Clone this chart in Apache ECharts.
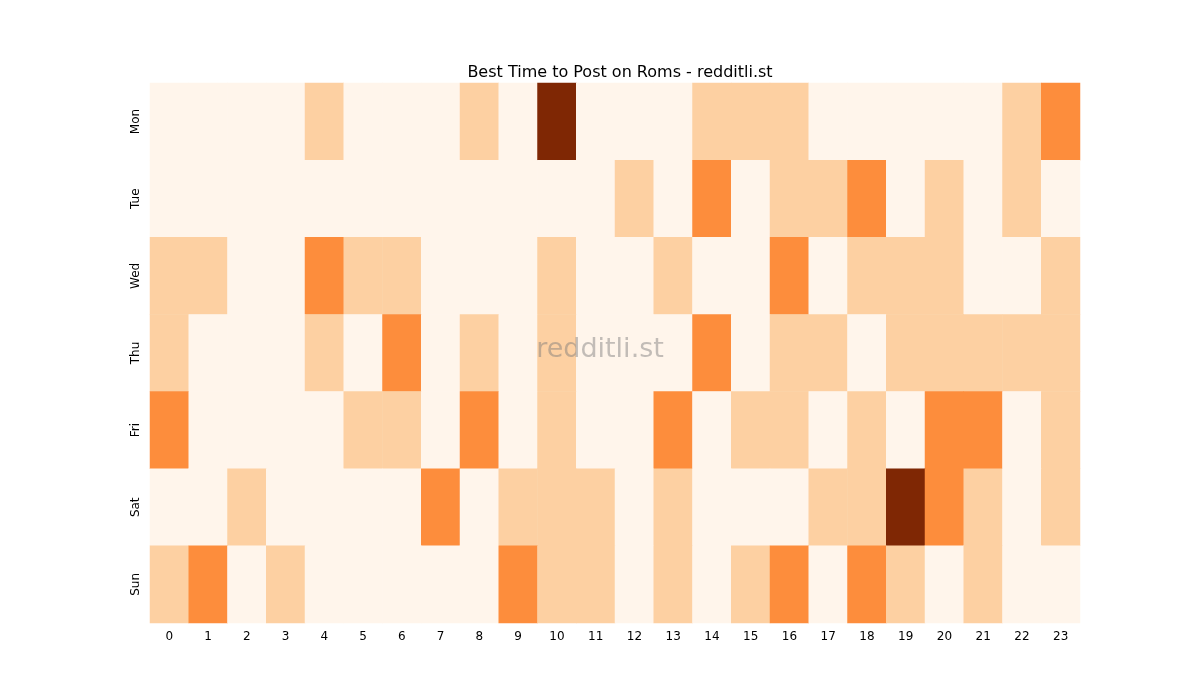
<!DOCTYPE html><html><head><meta charset="utf-8"><script src="https://cdn.jsdelivr.net/npm/echarts@6/dist/echarts.min.js"></script></head><body style="margin:0"><div id="c" style="width:1200px;height:700px"></div><script>
const hours=['0','1','2','3','4','5','6','7','8','9','10','11','12','13','14','15','16','17','18','19','20','21','22','23'];
const days=['Mon','Tue','Wed','Thu','Fri','Sat','Sun'];
const mon=[0,0,0,0,1,0,0,0,1,0,3,0,0,0,1,1,1,0,0,0,0,0,1,2];
const tue=[0,0,0,0,0,0,0,0,0,0,0,0,1,0,2,0,1,1,2,0,1,0,1,0];
const wed=[1,1,0,0,2,1,1,0,0,0,1,0,0,1,0,0,2,0,1,1,1,0,0,1];
const thu=[1,0,0,0,1,0,2,0,1,0,1,0,0,0,2,0,1,1,0,1,1,1,1,1];
const fri=[2,0,0,0,0,1,1,0,2,0,1,0,0,2,0,1,1,0,1,0,2,2,0,1];
const sat=[0,0,1,0,0,0,0,2,0,1,1,1,0,1,0,0,0,1,1,3,2,1,0,1];
const sun=[1,2,0,1,0,0,0,0,0,2,1,1,0,1,0,1,2,0,2,1,0,1,0,0];
const rows=[mon,tue,wed,thu,fri,sat,sun];
const data=[];rows.forEach((r,y)=>r.forEach((v,x)=>data.push([x,y,v])));
const c=echarts.init(document.getElementById('c'));
c.setOption({
title:{text:'Best Time to Post on Roms - redditli.st',left:615,top:60,textAlign:'center',textStyle:{fontSize:16,fontWeight:'normal',color:'#000',fontFamily:'DejaVu Sans'}},
grid:{left:150,right:120,top:83,bottom:77},
xAxis:{type:'category',data:hours,axisTick:{alignWithLabel:true,length:5,lineStyle:{color:'#000'}},axisLine:{show:false},axisLabel:{color:'#000',fontSize:12,fontFamily:'DejaVu Sans'},splitLine:{show:false}},
yAxis:{type:'category',data:days,inverse:true,axisTick:{alignWithLabel:true,length:5,lineStyle:{color:'#000'}},axisLine:{show:false},axisLabel:{color:'#000',rotate:90,fontSize:12,fontFamily:'DejaVu Sans'},splitLine:{show:false}},
visualMap:{show:false,type:'piecewise',dimension:2,pieces:[{value:0,color:'#fff5eb'},{value:1,color:'#fdd0a2'},{value:2,color:'#fd8d3c'},{value:3,color:'#7f2704'}]},
graphic:[{type:'text',left:'center',top:'middle',x:0,style:{text:'redditli.st',x:615,y:352,fontSize:27,fill:'rgba(120,120,120,0.45)',fontFamily:'DejaVu Sans',textAlign:'center',textVerticalAlign:'middle'},z:100}],
series:[{type:'heatmap',data:data,itemStyle:{borderWidth:0},emphasis:{disabled:true}}]
});
</script></body></html>
